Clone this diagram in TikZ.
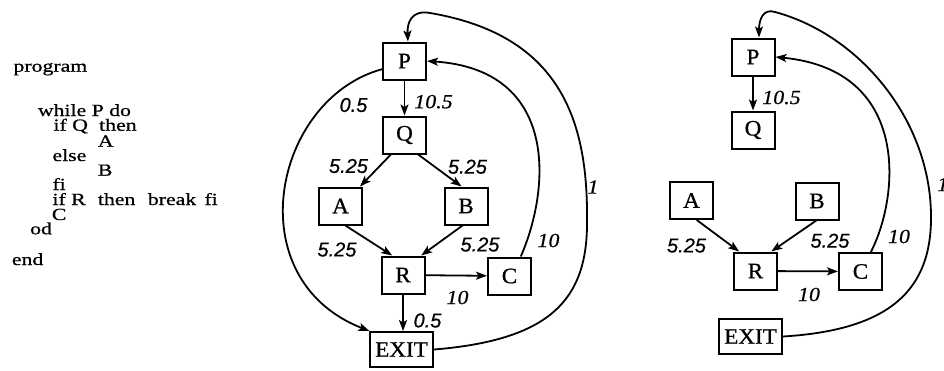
\documentclass[tikz,border=0pt]{standalone}
\usepackage{fontspec}
\setmainfont{Liberation Serif}
\newfontfamily\codefont[FakeStretch=1.28,FakeBold=0.8]{Liberation Serif}
\newfontfamily\boxfont[FakeStretch=1.05,FakeBold=0.8]{Liberation Serif}
\newfontfamily\labserif[FakeStretch=1.1,FakeBold=0.6]{Liberation Serif}
\newfontfamily\labsans[FakeBold=0.6]{Liberation Sans}
\usetikzlibrary{arrows.meta,calc}
\begin{document}
\begin{tikzpicture}[x=1pt,y=-1pt,
 box/.style={draw,line width=2pt,minimum width=43pt,minimum height=37pt,inner sep=0pt,font=\boxfont\fontsize{22}{22}\selectfont},
 exitbox/.style={box,minimum width=63pt,minimum height=35pt},
 conn/.style={line width=1.8pt,-{Stealth[length=11pt,width=8pt,inset=2.5pt]}},
 code/.style={anchor=base west,inner sep=0pt,font=\codefont\fontsize{17}{17}\selectfont},
 wsans/.style={inner sep=0pt,font=\labsans\itshape\fontsize{20}{20}\selectfont},
 wserif/.style={inner sep=0pt,font=\labserif\itshape\fontsize{20}{20}\selectfont}]
\useasboundingbox (0,0) rectangle (944,370);

% program text
\node[code] (t1) at (13.3,71.7) {program};
\node[code] (t2) at (37.7,116) {while P do};
\node[code] (t3) at (53.3,130.7) {if Q};
\node[code] (t4) at (99,130.7) {then};
\node[code] (t5) at (97.7,146.7) {A};
\node[code] (t6) at (52.3,161) {else};
\node[code] (t7) at (97.7,175.7) {B};
\node[code] (t8) at (52.3,190) {fi};
\node[code] (t9) at (52.3,205) {if R};
\node[code] (t10) at (97.7,205) {then};
\node[code] (t11) at (147.7,205) {break};
\node[code] (t12) at (204.3,205) {fi};
\node[code] (t13) at (51.7,220) {C};
\node[code] (t14) at (30,234.3) {od};
\node[code] (t15) at (11.7,265) {end};

% left graph
\node[box] (P1) at (404.5,61) {P};
\node[box] (Q1) at (404.5,135) {Q};
\node[box] (A1) at (340.5,206) {A};
\node[box] (B1) at (466,206) {B};
\node[box] (R1) at (403,275) {R};
\node[box] (C1) at (509.5,276) {C};
\node[exitbox] (E1) at (401.5,349.5) {EXIT};

\draw[conn] (P1) -- (Q1);
\draw[conn] (P1.200) .. controls +(-109,30) and +(-133,-52) .. (E1.150);
\draw[conn] (Q1.235) -- (A1.45);
\draw[conn] (Q1.305) -- (B1.103);
\draw[conn] (A1.284) -- (R1.119);
\draw[conn] (B1.260) -- (R1.47);
\draw[conn] (R1) -- (C1);
\draw[conn] (R1.south) -- (R1.south |- E1.north);
\draw[conn] (C1.60) .. controls (550,190) and (560,70) .. (P1.east);
\draw[conn] (E1.east) .. controls (550,340) and (588,300) .. (587,220)
  .. controls (588,120) and (560,35) .. (430,13)
  .. controls (412,9.6) and (407,22) .. (P1.80);

\node[wserif] (l1) at (433.5,101.7) {10.5};
\node[wsans] (l2) at (353.5,105) {0.5};
\node[wsans] (l3) at (348.5,166) {5.25};
\node[wsans] (l4) at (467.5,166.7) {5.25};
\node[wsans] (l5) at (337,249.5) {5.25};
\node[wsans] (l6) at (480,244.5) {5.25};
\node[wserif] (l7) at (548.5,240.5) {10};
\node[wserif] (l8) at (457.5,297.5) {10};
\node[wsans] (l9) at (427.5,320.5) {0.5};
\node[wserif] (l10) at (593,187) {1};

% right graph
\node[box] (P2) at (753,57) {P};
\node[box] (Q2) at (753,130) {Q};
\node[box] (A2) at (691.5,200.5) {A};
\node[box] (B2) at (817,201) {B};
\node[box] (R2) at (755.5,271) {R};
\node[box] (C2) at (860.5,271.5) {C};
\node[exitbox] (E2) at (750.5,336.5) {EXIT};

\draw[conn] (P2) -- (Q2);
\draw[conn] (A2.285) -- (R2.130);
\draw[conn] (B2.268) -- (R2.51);
\draw[conn] (R2) -- (C2);
\draw[conn] (C2.62) .. controls (900,195) and (910,70) .. (P2.east);
\draw[conn] (E2.east) .. controls (890,330) and (932,290) .. (931,215)
  .. controls (930,120) and (860,35) .. (775,12)
  .. controls (763,8) and (759,20) .. (P2.73);

\node[wserif] (r1) at (781.5,97.5) {10.5};
\node[wsans] (r2) at (686.5,245.5) {5.25};
\node[wsans] (r3) at (830,240.7) {5.25};
\node[wserif] (r4) at (899,236.5) {10};
\node[wserif] (r5) at (809,294.5) {10};
\node[wserif,anchor=west] (r6) at (937,184.5) {1};
\end{tikzpicture}
\end{document}
